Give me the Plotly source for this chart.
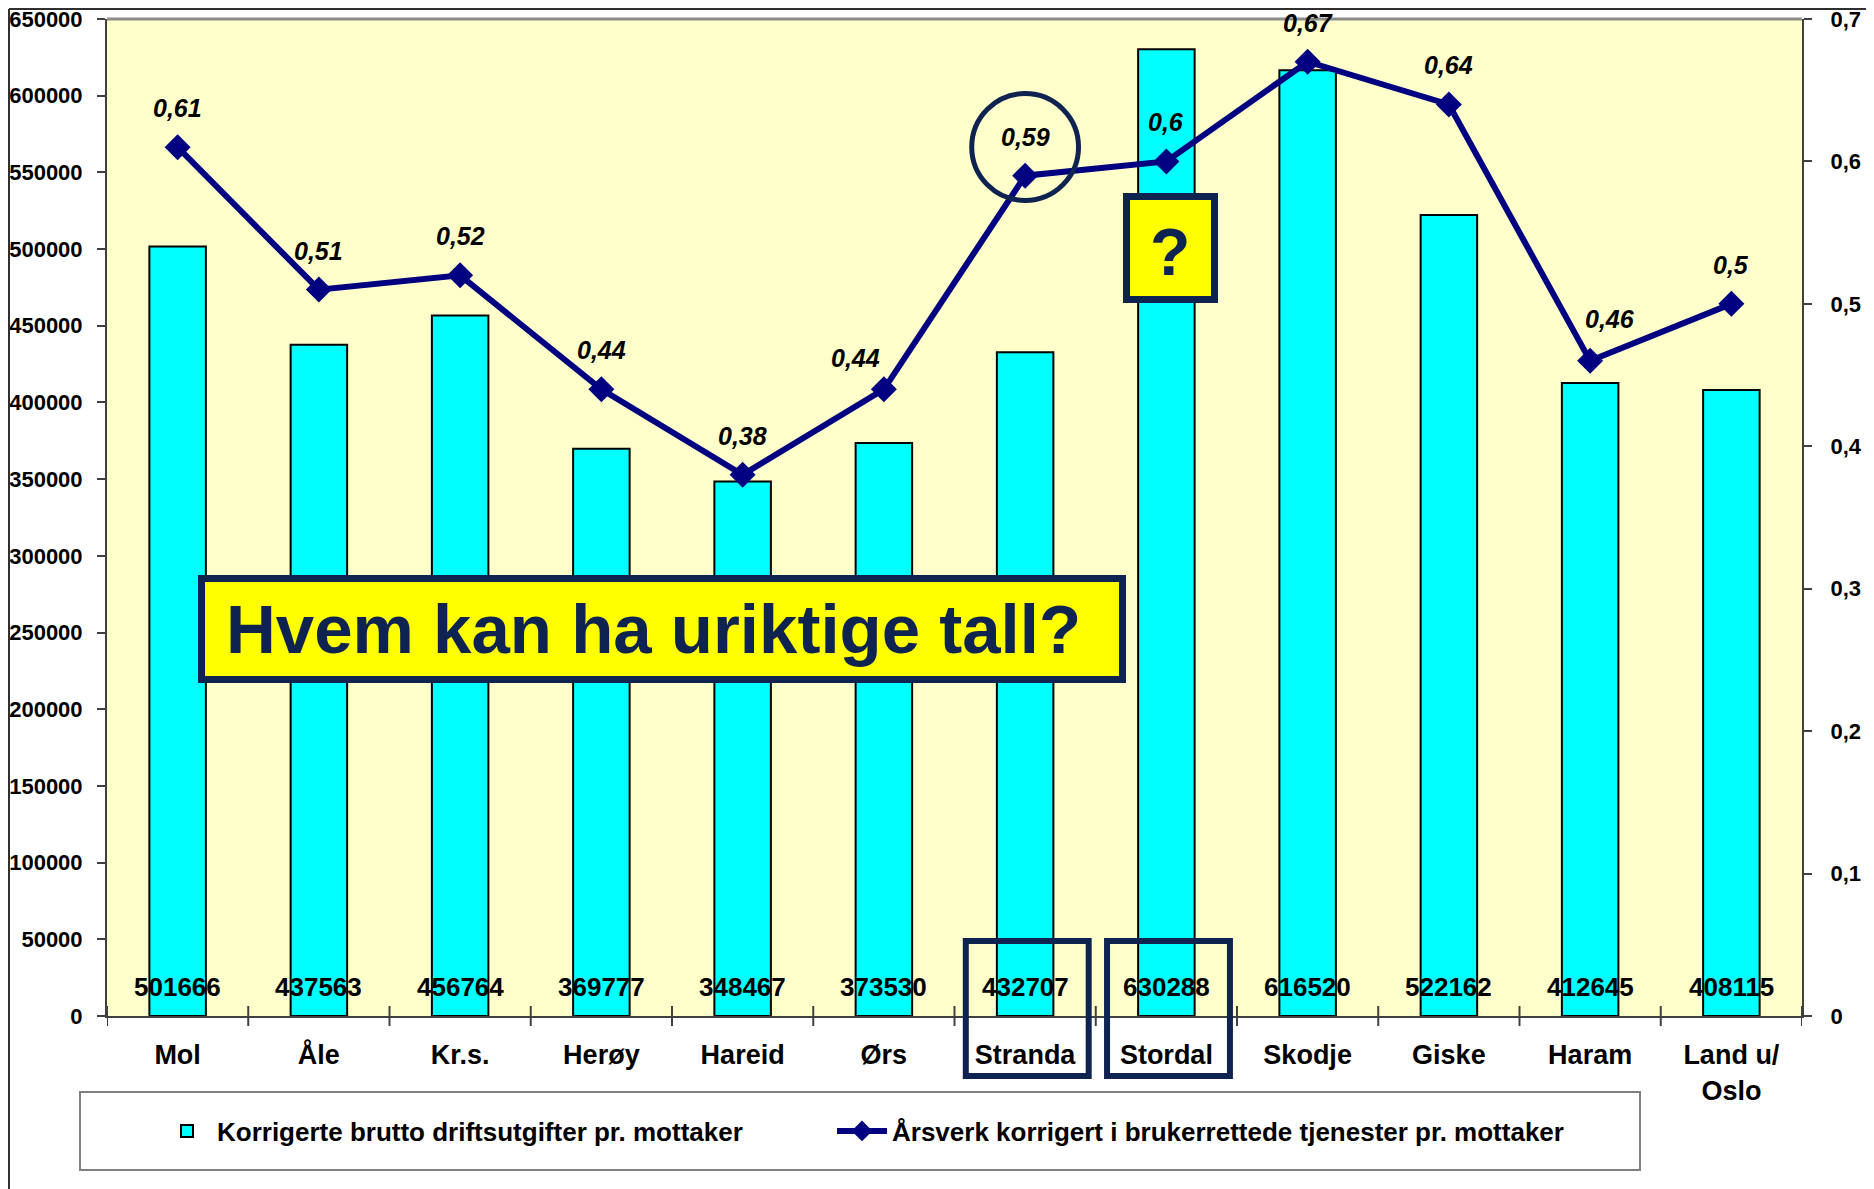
import plotly.graph_objects as go

# ---------------- data ----------------
categories = ["Mol", "Åle", "Kr.s.", "Herøy", "Hareid", "Ørs", "Stranda",
              "Stordal", "Skodje", "Giske", "Haram", "Land u/<br>Oslo"]
driftsutgifter = [501666, 437563, 456764, 369777, 348467, 373530, 432707,
                  630288, 616520, 522162, 412645, 408115]
arsverk = [0.61, 0.51, 0.52, 0.44, 0.38, 0.44, 0.59, 0.60, 0.67, 0.64, 0.46, 0.50]
left_tickvals = [0, 50000, 100000, 150000, 200000, 250000, 300000, 350000,
                 400000, 450000, 500000, 550000, 600000, 650000]
right_tickvals = [0, 0.1, 0.2, 0.3, 0.4, 0.5, 0.6, 0.7]
right_ticktext = ["0", "0,1", "0,2", "0,3", "0,4", "0,5", "0,6", "0,7"]
bar_name = "Korrigerte brutto driftsutgifter pr. mottaker"
line_name = "Årsverk korrigert i brukerrettede tjenester pr. mottaker"
callout_text = "Hvem kan ha uriktige tall?"
question_text = "?"
highlighted = ["Stranda", "Stordal"]
circled = "Stranda"

# ---------------- layout helpers ----------------
# the page body has an 8px margin, so the figure is placed 8px in from the corner
OFF = 8
PAGE_W, PAGE_H = 1874, 1189
W, H = PAGE_W - OFF, PAGE_H - OFF
# plot area in page pixels
PL, PR, PT, PB = 107, 1802, 19, 1016
L, R, T, B = PL - OFF, PR - OFF, PT - OFF, PB - OFF
FONT = "Liberation Sans, Arial, sans-serif"
NAVY = "#0F2350"
# manual nudges (px) of some line value labels, as in the original
label_nudge = {"Ørs": (-28, -8), "Haram": (20, 3)}


def fx(p):
    """page pixel x -> paper"""
    return (p - PL) / (PR - PL)


def fy(p):
    """page pixel y -> paper"""
    return (PB - p) / (PB - PT)


fig = go.Figure()

fig.add_trace(go.Bar(
    x=list(range(len(categories))), y=driftsutgifter, name=bar_name,
    marker=dict(color="#00FFFF", line=dict(color="black", width=2)),
    yaxis="y", hoverinfo="y", legend="legend",
))

fig.add_trace(go.Scatter(
    x=list(range(len(categories))), y=arsverk, name=line_name, yaxis="y2",
    mode="lines+markers",
    line=dict(color="#000080", width=6),
    marker=dict(symbol="diamond", size=20, color="#000080"),
    legend="legend2",
))

annotations = []
# bar value labels near the base
for i, v in enumerate(driftsutgifter):
    annotations.append(dict(
        x=i, y=0, xref="x", yref="y", text=str(v), showarrow=False,
        yanchor="bottom", yshift=12,
        font=dict(family=FONT, size=26, color="black", weight="bold"),
    ))
# line value labels above points
for i, v in enumerate(arsverk):
    dx, dy = label_nudge.get(categories[i], (0, 0))
    annotations.append(dict(
        x=i, y=v, xref="x", yref="y2", text=f"{v:g}".replace(".", ","),
        showarrow=False, yanchor="middle", yshift=39 + dy, xshift=dx,
        font=dict(family=FONT, size=25, color="black", weight="bold", style="italic"),
    ))

shapes = []
# outer frame (as close to the page corner as the figure allows)
shapes.append(dict(type="line", xref="paper", yref="paper",
                   x0=fx(OFF + 1), x1=fx(PAGE_W + 10), y0=fy(OFF + 1), y1=fy(OFF + 1),
                   line=dict(color="#303030", width=2)))
shapes.append(dict(type="line", xref="paper", yref="paper",
                   x0=fx(OFF + 1), x1=fx(OFF + 1), y0=fy(OFF + 1), y1=fy(PAGE_H + 10),
                   line=dict(color="#303030", width=2)))
# top border of plot area
shapes.append(dict(type="line", xref="paper", yref="paper",
                   x0=0, x1=1, y0=1, y1=1, line=dict(color="#8C8C8C", width=3)))

# legend frame
shapes.append(dict(type="rect", xref="paper", yref="paper",
                   x0=fx(80), x1=fx(1640), y0=fy(1170), y1=fy(1092),
                   line=dict(color="#808080", width=2), fillcolor="white", layer="below"))

# Callout box
shapes.append(dict(type="rect", xref="paper", yref="paper",
                   x0=fx(201.5), x1=fx(1122.5), y0=fy(679.5), y1=fy(578.5),
                   line=dict(color=NAVY, width=7), fillcolor="#FFFF00", layer="above"))
annotations.append(dict(xref="paper", yref="paper", x=fx(653), y=fy(629),
                        text=callout_text, showarrow=False, xanchor="center", yanchor="middle",
                        font=dict(family=FONT, size=69, color=NAVY, weight="bold")))

# question box
shapes.append(dict(type="rect", xref="paper", yref="paper",
                   x0=fx(1126.5), x1=fx(1214.5), y0=fy(299.5), y1=fy(196.5),
                   line=dict(color=NAVY, width=7), fillcolor="#FFFF00", layer="above"))
annotations.append(dict(xref="paper", yref="paper", x=fx(1170), y=fy(252),
                        text=question_text, showarrow=False, xanchor="center", yanchor="middle",
                        font=dict(family=FONT, size=66, color=NAVY, weight="bold")))

# circle around point
ci = categories.index(circled)
shapes.append(dict(type="circle", xref="x", yref="paper",
                   x0=ci - 0.378, x1=ci + 0.378, y0=fy(200.5), y1=fy(93.5),
                   line=dict(color=NAVY, width=5), layer="above"))

# boxes around highlighted category labels
for name in highlighted:
    i = categories.index(name)
    shapes.append(dict(type="rect", xref="x", yref="paper",
                       x0=i - 0.42, x1=i + 0.45, y0=fy(1076), y1=fy(941),
                       line=dict(color=NAVY, width=6), layer="above"))

# boundary ticks on category axis
for k in range(len(categories) + 1):
    shapes.append(dict(type="line", xref="x", yref="paper", x0=k - 0.5, x1=k - 0.5,
                       y0=fy(1006), y1=fy(1026), line=dict(color="#404040", width=2)))

legend_font = dict(family=FONT, size=26, color="black", weight="bold")

fig.update_layout(
    width=W, height=H,
    margin=dict(l=L, r=W - R, t=T, b=H - B, pad=0, autoexpand=False),
    paper_bgcolor="white", plot_bgcolor="#FFFFCC",
    bargap=0.6, showlegend=True,
    font=dict(family=FONT, color="black"),
    xaxis=dict(
        tickmode="array", tickvals=list(range(len(categories))), ticktext=categories,
        range=[-0.5, len(categories) - 0.5], automargin=False,
        showline=True, linecolor="#404040", linewidth=2,
        ticks="", showgrid=False, zeroline=False, ticklabeloverflow="allow",
        tickfont=dict(family=FONT, size=27, color="black", weight="bold"),
        ticklabelstandoff=14,
    ),
    yaxis=dict(
        range=[0, 650000], tickvals=left_tickvals, tickformat="d", automargin=False,
        showline=True, linecolor="#404040", linewidth=2,
        ticks="outside", ticklen=8, tickcolor="#404040", tickwidth=2,
        showgrid=False, zeroline=False, ticklabeloverflow="allow",
        tickfont=dict(family=FONT, size=22, color="black", weight="bold"),
        ticklabelstandoff=10,
    ),
    yaxis2=dict(
        range=[0, 0.7], overlaying="y", side="right", automargin=False,
        tickvals=right_tickvals, ticktext=right_ticktext,
        showline=True, linecolor="#404040", linewidth=2,
        ticks="outside", ticklen=8, tickcolor="#404040", tickwidth=2,
        showgrid=False, zeroline=False, ticklabeloverflow="allow",
        tickfont=dict(family=FONT, size=22, color="black", weight="bold"),
        ticklabelstandoff=14,
    ),
    legend=dict(
        orientation="h", x=fx(157), y=fy(1131), xanchor="left", yanchor="middle",
        font=legend_font, bgcolor="rgba(0,0,0,0)", borderwidth=0, itemwidth=50,
    ),
    legend2=dict(
        orientation="h", x=fx(832), y=fy(1131), xanchor="left", yanchor="middle",
        font=legend_font, bgcolor="rgba(0,0,0,0)", borderwidth=0, itemwidth=50,
    ),
    shapes=shapes, annotations=annotations,
)

fig.write_html("out.html")
